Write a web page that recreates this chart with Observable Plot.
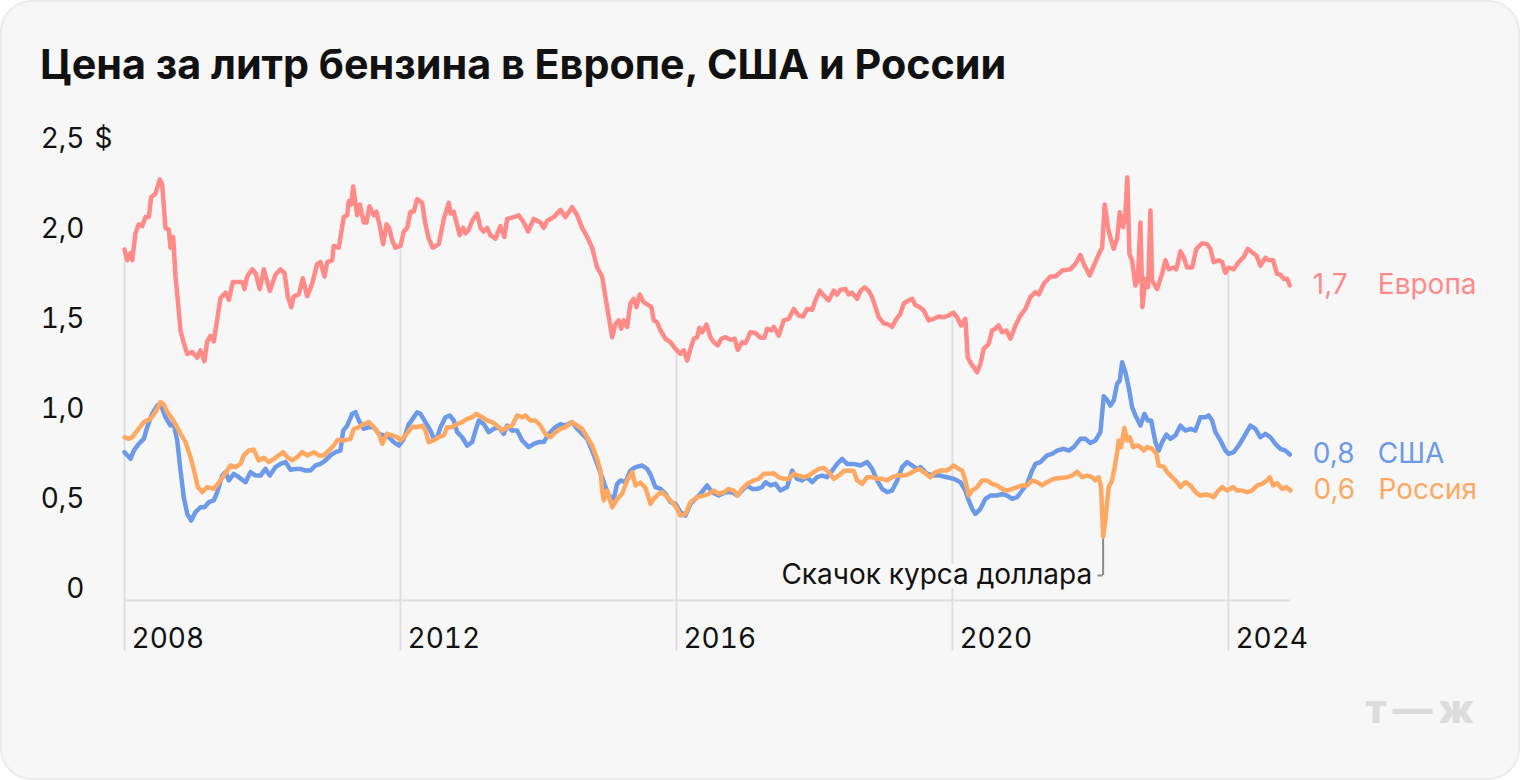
<!DOCTYPE html>
<html lang="ru">
<head>
<meta charset="utf-8">
<script src="https://cdn.jsdelivr.net/npm/d3@7"></script>
<script src="https://cdn.jsdelivr.net/npm/@observablehq/plot@0.6"></script>
<style>
  html, body { margin: 0; padding: 0; background: #ffffff; }
  #card {
    position: relative; width: 1520px; height: 780px; box-sizing: border-box;
    background: #f7f7f7; border-radius: 32px; overflow: hidden;
    box-shadow: inset 0 0 0 2px #ebebeb;
    font-family: Inter, "Noto Sans", sans-serif;
  }
  #title {
    position: absolute; left: 40px; top: 44px; margin: 0;
    font: 700 41.3px/40px Inter, "Noto Sans", sans-serif; color: #111; white-space: nowrap;
  }
  #chart { position: absolute; left: 0; top: 110px; }
  #logo {
    position: absolute; right: 40px; top: 686px;
    font: 800 40px/46px Inter, sans-serif; color: #dcdcdc; letter-spacing: 6px;
  }
</style>
</head>
<body>
<div id="card">
  <h1 id="title">Цена за литр бензина в Европе, США и России</h1>
  <div id="chart"></div>
  <div id="logo">т—ж</div>
</div>
<script>
// ---- data (decimal year, $ per litre) ----
const europe = [[2008.000,1.95],[2008.039,1.89],[2008.087,1.93],[2008.112,1.89],[2008.159,2.04],[2008.207,2.09],[2008.257,2.08],[2008.304,2.13],[2008.352,2.13],[2008.387,2.24],[2008.449,2.26],[2008.512,2.34],[2008.546,2.31],[2008.594,2.07],[2008.642,2.06],[2008.667,1.96],[2008.706,2.02],[2008.739,1.80],[2008.772,1.67],[2008.812,1.50],[2008.859,1.43],[2008.909,1.37],[2008.981,1.38],[2009.054,1.35],[2009.101,1.39],[2009.159,1.33],[2009.199,1.44],[2009.246,1.47],[2009.294,1.44],[2009.343,1.56],[2009.391,1.68],[2009.464,1.71],[2009.512,1.67],[2009.570,1.77],[2009.633,1.77],[2009.706,1.77],[2009.739,1.73],[2009.778,1.80],[2009.851,1.84],[2009.899,1.82],[2009.961,1.73],[2010.019,1.84],[2010.106,1.72],[2010.188,1.81],[2010.261,1.84],[2010.319,1.82],[2010.367,1.69],[2010.416,1.63],[2010.454,1.69],[2010.526,1.70],[2010.584,1.79],[2010.648,1.69],[2010.720,1.76],[2010.793,1.87],[2010.841,1.88],[2010.899,1.80],[2010.938,1.88],[2011.010,1.89],[2011.033,1.97],[2011.106,1.96],[2011.178,2.13],[2011.228,2.14],[2011.251,2.22],[2011.286,2.20],[2011.314,2.30],[2011.372,2.14],[2011.410,2.20],[2011.468,2.10],[2011.507,2.10],[2011.551,2.19],[2011.613,2.14],[2011.652,2.16],[2011.700,2.08],[2011.749,1.98],[2011.797,2.09],[2011.836,2.07],[2011.880,2.00],[2011.928,1.96],[2012.000,1.97],[2012.048,2.05],[2012.097,2.07],[2012.145,2.16],[2012.193,2.16],[2012.242,2.23],[2012.314,2.21],[2012.362,2.09],[2012.410,2.01],[2012.468,1.96],[2012.555,1.98],[2012.628,2.12],[2012.700,2.21],[2012.725,2.15],[2012.772,2.16],[2012.859,2.03],[2012.909,2.07],[2012.942,2.04],[2012.990,2.06],[2013.039,2.11],[2013.112,2.15],[2013.159,2.07],[2013.207,2.05],[2013.257,2.07],[2013.304,2.03],[2013.377,2.01],[2013.449,2.08],[2013.507,2.02],[2013.546,2.12],[2013.642,2.13],[2013.714,2.14],[2013.787,2.10],[2013.851,2.05],[2013.932,2.12],[2014.029,2.10],[2014.077,2.07],[2014.126,2.11],[2014.222,2.13],[2014.319,2.17],[2014.391,2.13],[2014.488,2.185],[2014.561,2.14],[2014.633,2.07],[2014.706,2.02],[2014.778,1.96],[2014.851,1.85],[2014.923,1.80],[2014.971,1.685],[2015.019,1.574],[2015.068,1.463],[2015.116,1.537],[2015.164,1.556],[2015.199,1.51],[2015.236,1.556],[2015.286,1.52],[2015.333,1.65],[2015.381,1.676],[2015.420,1.63],[2015.468,1.70],[2015.526,1.657],[2015.599,1.64],[2015.638,1.63],[2015.671,1.556],[2015.720,1.546],[2015.768,1.50],[2015.841,1.454],[2015.913,1.435],[2015.986,1.398],[2016.058,1.37],[2016.106,1.39],[2016.155,1.333],[2016.203,1.398],[2016.251,1.454],[2016.300,1.463],[2016.333,1.515],[2016.372,1.49],[2016.435,1.533],[2016.493,1.463],[2016.541,1.435],[2016.599,1.417],[2016.648,1.454],[2016.710,1.463],[2016.783,1.448],[2016.845,1.454],[2016.888,1.393],[2016.952,1.435],[2017.000,1.43],[2017.072,1.49],[2017.145,1.486],[2017.217,1.46],[2017.275,1.46],[2017.314,1.51],[2017.372,1.50],[2017.410,1.52],[2017.483,1.472],[2017.555,1.556],[2017.628,1.565],[2017.700,1.62],[2017.772,1.583],[2017.836,1.578],[2017.894,1.62],[2017.967,1.615],[2018.014,1.667],[2018.077,1.722],[2018.135,1.694],[2018.207,1.667],[2018.280,1.722],[2018.329,1.70],[2018.377,1.726],[2018.449,1.73],[2018.497,1.70],[2018.546,1.71],[2018.619,1.676],[2018.667,1.72],[2018.725,1.74],[2018.787,1.72],[2018.836,1.685],[2018.884,1.63],[2018.932,1.574],[2019.004,1.54],[2019.077,1.533],[2019.126,1.52],[2019.174,1.556],[2019.246,1.593],[2019.294,1.65],[2019.367,1.667],[2019.416,1.676],[2019.464,1.64],[2019.526,1.63],[2019.584,1.611],[2019.657,1.556],[2019.729,1.565],[2019.801,1.578],[2019.874,1.574],[2019.946,1.583],[2020.010,1.60],[2020.068,1.574],[2020.126,1.528],[2020.188,1.565],[2020.222,1.35],[2020.271,1.315],[2020.309,1.296],[2020.358,1.268],[2020.406,1.315],[2020.454,1.398],[2020.526,1.426],[2020.575,1.50],[2020.623,1.51],[2020.671,1.528],[2020.720,1.49],[2020.783,1.50],[2020.841,1.454],[2020.913,1.528],[2020.986,1.583],[2021.058,1.62],[2021.130,1.685],[2021.203,1.713],[2021.251,1.70],[2021.323,1.76],[2021.420,1.80],[2021.493,1.80],[2021.590,1.833],[2021.710,1.84],[2021.783,1.87],[2021.855,1.92],[2021.903,1.87],[2021.990,1.806],[2022.072,1.88],[2022.135,1.935],[2022.170,1.96],[2022.207,2.20],[2022.265,2.05],[2022.338,1.954],[2022.387,2.01],[2022.425,2.157],[2022.474,2.074],[2022.507,2.157],[2022.536,2.35],[2022.565,1.926],[2022.604,1.889],[2022.652,1.75],[2022.686,1.778],[2022.725,2.10],[2022.754,1.63],[2022.797,1.787],[2022.836,1.74],[2022.870,2.167],[2022.894,1.778],[2022.967,1.73],[2023.039,1.815],[2023.087,1.89],[2023.135,1.84],[2023.207,1.85],[2023.246,1.84],[2023.304,1.94],[2023.352,1.907],[2023.401,1.85],[2023.474,1.85],[2023.536,1.954],[2023.619,1.985],[2023.691,1.98],[2023.739,1.954],[2023.787,1.88],[2023.859,1.89],[2023.909,1.88],[2023.957,1.82],[2024.004,1.85],[2024.077,1.84],[2024.149,1.88],[2024.222,1.907],[2024.280,1.954],[2024.343,1.935],[2024.406,1.917],[2024.464,1.86],[2024.536,1.904],[2024.584,1.89],[2024.648,1.89],[2024.706,1.815],[2024.754,1.81],[2024.801,1.787],[2024.851,1.787],[2024.890,1.75]];

const usa = [[2008.000,0.824],[2008.087,0.787],[2008.135,0.833],[2008.207,0.87],[2008.280,0.898],[2008.329,0.963],[2008.401,1.037],[2008.474,1.083],[2008.522,1.093],[2008.594,1.018],[2008.667,0.972],[2008.714,0.98],[2008.764,0.889],[2008.812,0.722],[2008.859,0.574],[2008.909,0.481],[2008.967,0.444],[2009.029,0.491],[2009.101,0.518],[2009.159,0.518],[2009.222,0.546],[2009.294,0.556],[2009.343,0.60],[2009.416,0.694],[2009.464,0.713],[2009.512,0.667],[2009.584,0.704],[2009.657,0.685],[2009.754,0.657],[2009.826,0.713],[2009.899,0.694],[2009.971,0.694],[2010.043,0.731],[2010.106,0.694],[2010.188,0.741],[2010.261,0.759],[2010.333,0.769],[2010.406,0.726],[2010.478,0.731],[2010.551,0.731],[2010.623,0.722],[2010.696,0.722],[2010.768,0.75],[2010.841,0.759],[2010.913,0.778],[2010.986,0.806],[2011.058,0.824],[2011.130,0.833],[2011.170,0.944],[2011.228,0.972],[2011.300,1.037],[2011.348,1.046],[2011.396,1.00],[2011.468,0.954],[2011.541,0.963],[2011.613,0.963],[2011.686,0.926],[2011.758,0.917],[2011.830,0.907],[2011.903,0.88],[2011.975,0.861],[2012.048,0.898],[2012.120,0.98],[2012.145,0.991],[2012.242,1.046],[2012.290,1.037],[2012.362,0.991],[2012.435,0.944],[2012.483,0.898],[2012.532,0.907],[2012.580,0.963],[2012.652,1.018],[2012.714,1.028],[2012.772,1.00],[2012.822,0.935],[2012.894,0.907],[2012.967,0.861],[2013.039,0.88],[2013.087,0.944],[2013.135,1.00],[2013.207,0.98],[2013.280,0.935],[2013.352,0.954],[2013.425,0.963],[2013.497,0.926],[2013.546,0.972],[2013.619,0.944],[2013.691,0.944],[2013.764,0.889],[2013.859,0.852],[2013.932,0.87],[2014.004,0.88],[2014.077,0.88],[2014.149,0.926],[2014.246,0.963],[2014.319,0.98],[2014.391,0.972],[2014.488,0.991],[2014.561,0.954],[2014.633,0.926],[2014.706,0.898],[2014.778,0.833],[2014.851,0.759],[2014.923,0.685],[2014.971,0.63],[2015.019,0.583],[2015.091,0.565],[2015.141,0.648],[2015.188,0.667],[2015.261,0.657],[2015.333,0.722],[2015.406,0.741],[2015.503,0.75],[2015.575,0.731],[2015.623,0.70],[2015.696,0.63],[2015.768,0.62],[2015.841,0.593],[2015.913,0.546],[2015.986,0.537],[2016.058,0.491],[2016.130,0.472],[2016.203,0.537],[2016.275,0.565],[2016.348,0.593],[2016.445,0.639],[2016.517,0.602],[2016.613,0.583],[2016.710,0.602],[2016.807,0.602],[2016.880,0.583],[2016.952,0.611],[2017.025,0.639],[2017.097,0.62],[2017.170,0.62],[2017.242,0.63],[2017.290,0.657],[2017.362,0.639],[2017.435,0.648],[2017.507,0.611],[2017.604,0.63],[2017.677,0.722],[2017.749,0.676],[2017.822,0.667],[2017.894,0.685],[2017.967,0.657],[2018.039,0.685],[2018.112,0.694],[2018.184,0.685],[2018.257,0.722],[2018.329,0.759],[2018.401,0.787],[2018.474,0.759],[2018.570,0.759],[2018.667,0.75],[2018.764,0.769],[2018.836,0.731],[2018.909,0.667],[2018.981,0.62],[2019.054,0.602],[2019.126,0.611],[2019.199,0.667],[2019.271,0.741],[2019.343,0.769],[2019.416,0.75],[2019.488,0.731],[2019.536,0.741],[2019.633,0.704],[2019.729,0.694],[2019.826,0.694],[2019.923,0.685],[2020.019,0.676],[2020.116,0.657],[2020.188,0.611],[2020.236,0.556],[2020.286,0.509],[2020.333,0.481],[2020.406,0.509],[2020.478,0.565],[2020.551,0.583],[2020.648,0.583],[2020.720,0.593],[2020.793,0.583],[2020.865,0.565],[2020.938,0.574],[2021.010,0.611],[2021.083,0.648],[2021.155,0.722],[2021.203,0.759],[2021.275,0.769],[2021.372,0.806],[2021.445,0.815],[2021.517,0.833],[2021.613,0.843],[2021.686,0.833],[2021.758,0.852],[2021.855,0.898],[2021.928,0.898],[2022.000,0.875],[2022.072,0.889],[2022.145,0.935],[2022.193,1.135],[2022.242,1.115],[2022.290,1.083],[2022.338,1.111],[2022.387,1.204],[2022.425,1.222],[2022.459,1.324],[2022.507,1.268],[2022.555,1.185],[2022.604,1.074],[2022.652,1.028],[2022.725,0.972],[2022.783,1.037],[2022.830,1.00],[2022.880,1.00],[2022.942,0.88],[2022.990,0.833],[2023.039,0.88],[2023.101,0.922],[2023.159,0.898],[2023.232,0.917],[2023.304,0.972],[2023.377,0.944],[2023.449,0.954],[2023.522,0.944],[2023.594,1.018],[2023.667,1.018],[2023.714,1.028],[2023.764,1.00],[2023.812,0.935],[2023.884,0.889],[2023.957,0.833],[2024.004,0.815],[2024.077,0.824],[2024.149,0.861],[2024.222,0.907],[2024.319,0.972],[2024.391,0.954],[2024.464,0.907],[2024.536,0.926],[2024.609,0.907],[2024.681,0.87],[2024.754,0.843],[2024.826,0.833],[2024.890,0.811]];

const russia = [[2008.000,0.907],[2008.062,0.898],[2008.112,0.907],[2008.184,0.944],[2008.280,0.991],[2008.377,1.009],[2008.449,1.046],[2008.522,1.102],[2008.570,1.09],[2008.619,1.046],[2008.677,1.018],[2008.739,0.98],[2008.812,0.926],[2008.884,0.88],[2008.957,0.796],[2009.014,0.713],[2009.062,0.63],[2009.126,0.602],[2009.199,0.63],[2009.294,0.62],[2009.391,0.667],[2009.488,0.722],[2009.536,0.75],[2009.609,0.741],[2009.681,0.759],[2009.729,0.806],[2009.801,0.833],[2009.874,0.837],[2009.946,0.778],[2010.019,0.793],[2010.091,0.769],[2010.164,0.787],[2010.236,0.806],[2010.300,0.824],[2010.358,0.796],[2010.430,0.778],[2010.503,0.796],[2010.575,0.824],[2010.648,0.806],[2010.743,0.824],[2010.816,0.806],[2010.888,0.806],[2010.961,0.833],[2011.033,0.861],[2011.091,0.893],[2011.178,0.889],[2011.275,0.898],[2011.323,0.954],[2011.396,0.963],[2011.468,0.98],[2011.541,0.991],[2011.613,0.963],[2011.686,0.926],[2011.735,0.87],[2011.807,0.926],[2011.880,0.917],[2011.952,0.907],[2012.000,0.889],[2012.072,0.917],[2012.170,0.965],[2012.242,0.963],[2012.314,0.972],[2012.362,0.944],[2012.410,0.88],[2012.483,0.889],[2012.555,0.907],[2012.628,0.917],[2012.677,0.963],[2012.749,0.963],[2012.822,0.98],[2012.894,0.991],[2012.967,1.009],[2013.039,1.018],[2013.101,1.037],[2013.184,1.018],[2013.257,1.00],[2013.329,0.991],[2013.401,0.972],[2013.474,0.944],[2013.546,0.963],[2013.619,0.972],[2013.691,1.028],[2013.764,1.018],[2013.812,1.028],[2013.884,1.00],[2013.957,1.00],[2014.029,0.972],[2014.101,0.926],[2014.174,0.907],[2014.246,0.935],[2014.319,0.954],[2014.391,0.963],[2014.488,0.991],[2014.561,0.972],[2014.633,0.954],[2014.706,0.907],[2014.778,0.861],[2014.851,0.787],[2014.899,0.722],[2014.923,0.611],[2014.946,0.556],[2014.996,0.611],[2015.068,0.518],[2015.141,0.565],[2015.213,0.593],[2015.286,0.667],[2015.358,0.713],[2015.406,0.639],[2015.478,0.655],[2015.551,0.625],[2015.623,0.537],[2015.671,0.565],[2015.743,0.593],[2015.793,0.602],[2015.865,0.574],[2015.938,0.546],[2016.010,0.509],[2016.058,0.472],[2016.130,0.481],[2016.203,0.546],[2016.300,0.574],[2016.396,0.583],[2016.468,0.593],[2016.541,0.611],[2016.613,0.593],[2016.686,0.602],[2016.758,0.62],[2016.830,0.611],[2016.880,0.583],[2016.952,0.62],[2017.025,0.648],[2017.120,0.667],[2017.193,0.676],[2017.265,0.704],[2017.338,0.704],[2017.410,0.707],[2017.483,0.685],[2017.555,0.676],[2017.628,0.676],[2017.700,0.704],[2017.772,0.694],[2017.845,0.685],[2017.917,0.694],[2017.990,0.713],[2018.062,0.731],[2018.135,0.737],[2018.207,0.713],[2018.280,0.676],[2018.352,0.694],[2018.425,0.719],[2018.497,0.722],[2018.570,0.72],[2018.619,0.667],[2018.691,0.648],[2018.764,0.685],[2018.836,0.685],[2018.909,0.676],[2018.981,0.676],[2019.054,0.667],[2019.126,0.685],[2019.199,0.694],[2019.271,0.694],[2019.343,0.699],[2019.416,0.713],[2019.512,0.731],[2019.584,0.713],[2019.681,0.685],[2019.754,0.713],[2019.826,0.722],[2019.923,0.722],[2020.019,0.75],[2020.091,0.731],[2020.141,0.722],[2020.188,0.667],[2020.236,0.583],[2020.286,0.611],[2020.358,0.63],[2020.430,0.667],[2020.503,0.667],[2020.575,0.648],[2020.648,0.639],[2020.720,0.62],[2020.793,0.611],[2020.865,0.62],[2020.938,0.63],[2021.010,0.639],[2021.083,0.639],[2021.155,0.667],[2021.228,0.657],[2021.300,0.639],[2021.372,0.657],[2021.468,0.676],[2021.565,0.68],[2021.662,0.685],[2021.735,0.694],[2021.807,0.715],[2021.880,0.685],[2021.952,0.694],[2022.025,0.685],[2022.072,0.667],[2022.120,0.685],[2022.155,0.63],[2022.184,0.355],[2022.217,0.444],[2022.265,0.63],[2022.314,0.667],[2022.352,0.741],[2022.387,0.824],[2022.410,0.889],[2022.445,0.852],[2022.493,0.959],[2022.532,0.889],[2022.570,0.907],[2022.620,0.852],[2022.677,0.861],[2022.725,0.852],[2022.772,0.833],[2022.822,0.852],[2022.894,0.843],[2022.957,0.815],[2022.990,0.75],[2023.062,0.744],[2023.112,0.713],[2023.184,0.685],[2023.257,0.657],[2023.304,0.63],[2023.377,0.657],[2023.449,0.639],[2023.522,0.602],[2023.594,0.583],[2023.667,0.589],[2023.739,0.583],[2023.787,0.574],[2023.836,0.602],[2023.909,0.63],[2023.981,0.611],[2024.068,0.63],[2024.126,0.611],[2024.199,0.611],[2024.271,0.602],[2024.343,0.611],[2024.416,0.639],[2024.488,0.648],[2024.561,0.667],[2024.599,0.685],[2024.648,0.639],[2024.706,0.652],[2024.778,0.62],[2024.841,0.63],[2024.899,0.611]];

const seriesNames = ["Европа", "США", "Россия"];
const seriesColors = ["#ff8a87", "#6c9ae8", "#ffa862"];
const endLabels = ["1,7", "0,8", "0,6"];
const xTicks = [2008, 2012, 2016, 2020, 2024];
const yTicks = [0, 0.5, 1, 1.5, 2, 2.5];
const yTickLabels = ["0", "0,5", "1,0", "1,5", "2,0", "2,5"];
const unitLabel = "$";
const annotationText = "Скачок курса доллара";

// ---- derived tables ----
const allSeries = [europe, usa, russia];
const rows = allSeries.flatMap((s, k) => s.map(([t, v]) => ({t, v, s: seriesNames[k]})));
const endRows = allSeries.map((s, k) => ({t: s[s.length - 1][0], v: s[s.length - 1][1], s: seriesNames[k], label: endLabels[k]}));
const yLabelMap = new Map(yTicks.map((d, i) => [d, yTickLabels[i]]));

function valueAt(series, t) {
  const i = d3.bisector(d => d[0]).left(series, t);
  if (i <= 0) return series[0][1];
  if (i >= series.length) return series[series.length - 1][1];
  const [t0, v0] = series[i - 1], [t1, v1] = series[i];
  return v0 + (v1 - v0) * (t - t0) / (t1 - t0);
}
const gridRows = xTicks.map(t => ({t, v: valueAt(europe, t)}));
const dip = d3.least(russia.filter(d => d[0] > 2021), d => d[1]);
const annotY = 0.139;
const bg = "#f7f7f7";

const chart = Plot.plot({
  width: 1520,
  height: 670,
  marginLeft: 124,
  marginRight: 230,
  marginTop: 40,
  marginBottom: 180,
  style: {background: "transparent", fontFamily: "Inter, 'Noto Sans', sans-serif", fontSize: "28px", color: "#111", overflow: "visible"},
  x: {type: "linear", domain: [2008, 2024.9]},
  y: {domain: [0, 2.5]},
  color: {domain: seriesNames, range: seriesColors},
  marks: [
    Plot.ruleX(gridRows, {x: "t", y1: "v", y2: -0.28, stroke: "#e0e0e0", strokeWidth: 2}),
    Plot.ruleY([0], {stroke: "#e0e0e0", strokeWidth: 2}),
    Plot.axisY({anchor: "left", label: null, ticks: yTicks, tickFormat: d => yLabelMap.get(d), tickSize: 0, tickPadding: 40, dy: -11, fontSize: 28, fill: "#111"}),
    Plot.text([unitLabel], {x: () => 2008, y: () => 2.5, text: d => d, textAnchor: "start", dx: -30, dy: -11, fontSize: 28, fill: "#111"}),
    Plot.axisX({anchor: "bottom", label: null, ticks: xTicks, tickFormat: d => String(d), tickSize: 0, tickPadding: 28, textAnchor: "start", dx: 7, fontSize: 28, fill: "#111"}),
    Plot.text([annotationText], {x: () => dip[0], y: () => annotY, text: d => d, textAnchor: "end", dx: -11, fontSize: 28, fill: "#111", stroke: bg, strokeWidth: 12}),
    Plot.ruleX([dip], {x: d => d[0], y1: d => d[1], y2: () => annotY, stroke: "#8a8a8a", strokeWidth: 2}),
    Plot.ruleY([annotY], {x1: () => dip[0] - 0.075, x2: () => dip[0], stroke: "#8a8a8a", strokeWidth: 2}),
    Plot.line(rows, {x: "t", y: "v", z: "s", stroke: "s", strokeWidth: 4.5, strokeLinejoin: "round", strokeLinecap: "round"}),
    Plot.text(endRows, {x: "t", y: "v", text: "label", fill: "s", textAnchor: "start", dx: 23, fontSize: 28}),
    Plot.text(endRows, {x: "t", y: "v", text: "s", fill: "s", textAnchor: "start", dx: 88, fontSize: 28})
  ]
});
document.getElementById("chart").appendChild(chart);
</script>
</body>
</html>
